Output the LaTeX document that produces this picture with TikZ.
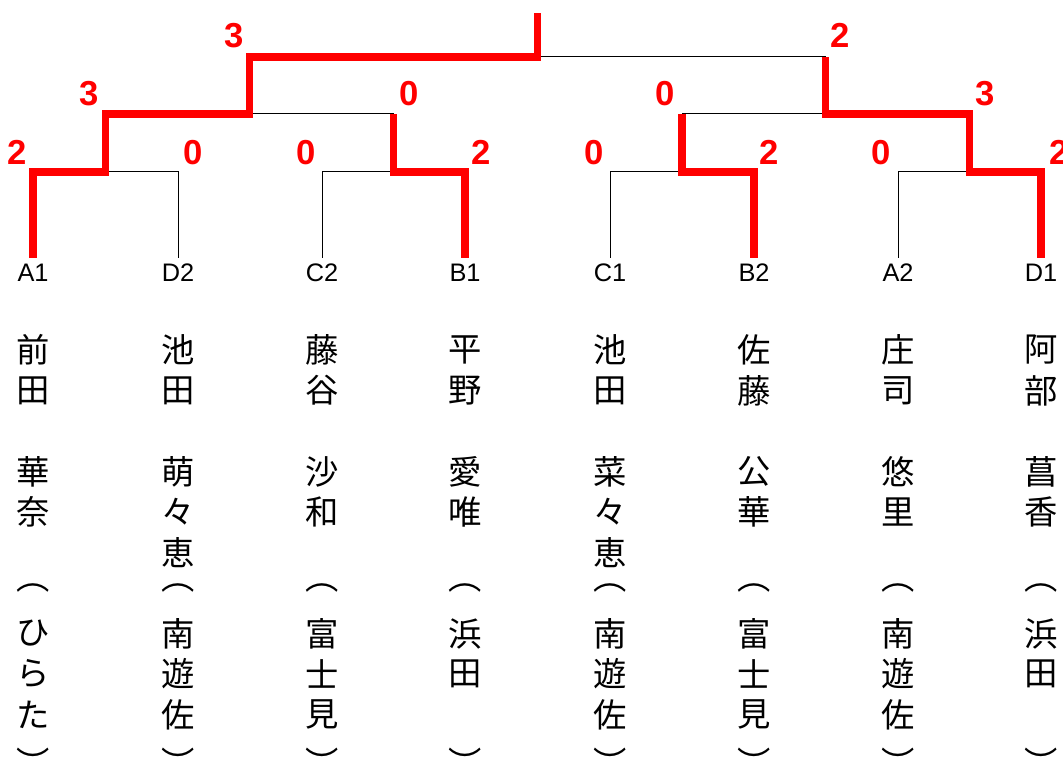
\documentclass[tikz,border=0pt]{standalone}
\usepackage{fontspec}
\setmainfont{Liberation Sans}
\newfontfamily\jpfont{Noto Sans CJK JP}
\begin{document}
\begin{tikzpicture}[x=0.75pt,y=-0.75pt,
  thinline/.style={draw=black,line width=0.75pt},
  winline/.style={draw=red,line width=5.4pt,line join=miter},
  score/.style={text=red,font=\fontsize{26}{26}\selectfont\bfseries,inner sep=0pt,anchor=base},
  seed/.style={font=\fontsize{19}{19}\selectfont,inner sep=0pt,anchor=base},
  nm/.style={font=\jpfont\fontsize{25}{25}\selectfont,inner sep=0pt},
  par/.style={font=\jpfont\fontsize{25}{25}\selectfont,inner sep=0pt,rotate=-90}]
\useasboundingbox (0,0) rectangle (1063,762);
% leaves
\coordinate (lA1) at (33,258);
\coordinate (lD2) at (178,258);
\coordinate (lC2) at (322,258);
\coordinate (lB1) at (465,258);
\coordinate (lC1) at (610,258);
\coordinate (lB2) at (754,258);
\coordinate (lA2) at (898,258);
\coordinate (lD1) at (1041,258);
% matches
\coordinate (m1) at (105.5,172);
\coordinate (m2) at (393.5,172);
\coordinate (m3) at (682,172);
\coordinate (m4) at (969.5,172);
\coordinate (m5) at (249.5,114);
\coordinate (m6) at (825.75,114);
\coordinate (m7) at (537.6,57);
\coordinate (top) at (537.6,13);
% thin bracket
\draw[thinline] (lA1) |- (m1);
\draw[thinline] (lD2) |- (m1);
\draw[thinline] (lC2) |- (m2);
\draw[thinline] (lB1) |- (m2);
\draw[thinline] (lC1) |- (m3);
\draw[thinline] (lB2) |- (m3);
\draw[thinline] (lA2) |- (m4);
\draw[thinline] (lD1) |- (m4);
\draw[thinline] (m1) |- (m5);
\draw[thinline] (m2) |- (m5);
\draw[thinline] (m3) |- (m6);
\draw[thinline] (m4) |- (m6);
\draw[thinline] (m5) |- (m7);
\draw[thinline] (m6) |- (m7);
% winners
\draw[winline] (lA1) |- (m1) |- (m5) |- (m7) -- (top);
\draw[winline] (lB1) |- (m2) -- (m2|-m5);
\draw[winline] (lB2) |- (m3) -- (m3|-m6);
\draw[winline] (lD1) |- (m4) |- (m6) -- (m6|-m7);
% scores
\node[score] (s1) at (17,165) {2};
\node[score] (s2) at (193,165) {0};
\node[score] (s3) at (306,165) {0};
\node[score] (s4) at (481,165) {2};
\node[score] (s5) at (594,165) {0};
\node[score] (s6) at (769,165) {2};
\node[score] (s7) at (881,165) {0};
\node[score] (s8) at (1059,165) {2};
\node[score] (t1) at (89,106) {3};
\node[score] (t2) at (409,106) {0};
\node[score] (t3) at (665,106) {0};
\node[score] (t4) at (985,106) {3};
\node[score] (u1) at (234,48) {3};
\node[score] (u2) at (840,48) {2};
% seeds
\node[seed] (A1) at (33,282) {A1};
\node[seed] (D2) at (178,282) {D2};
\node[seed] (C2) at (322,282) {C2};
\node[seed] (B1) at (465,282) {B1};
\node[seed] (C1) at (610,282) {C1};
\node[seed] (B2) at (754,282) {B2};
\node[seed] (A2) at (898,282) {A2};
\node[seed] (D1) at (1041,282) {D1};
% names
\foreach \xx/\pp/\lst in {
  33/na1/{1/前,2/田,4/華,5/奈,8/ひ,9/ら,10/た},
  178/nd2/{1/池,2/田,4/萌,5/々,6/恵,8/南,9/遊,10/佐},
  322/nc2/{1/藤,2/谷,4/沙,5/和,8/富,9/士,10/見},
  465/nb1/{1/平,2/野,4/愛,5/唯,8/浜,9/田},
  610/nc1/{1/池,2/田,4/菜,5/々,6/恵,8/南,9/遊,10/佐},
  754/nb2/{1/佐,2/藤,4/公,5/華,8/富,9/士,10/見},
  898/na2/{1/庄,2/司,4/悠,5/里,8/南,9/遊,10/佐},
  1041/nd1/{1/阿,2/部,4/菖,5/香,8/浜,9/田}}{
  \foreach \ii/\ch in \lst {
    \node[nm] (\pp-\ii) at (\xx,{350+40.5*(\ii-1)}) {\ch};
  }
  \node[par] (\pp-open) at (\xx,577) {（};
  \node[par] (\pp-close) at (\xx,763) {）};
}
\end{tikzpicture}
\end{document}
